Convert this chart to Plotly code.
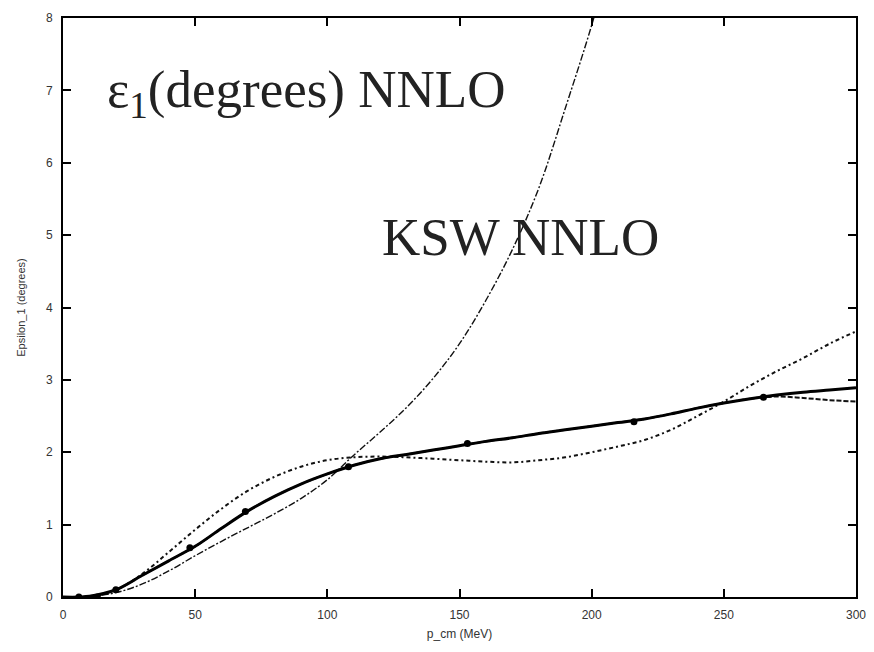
import plotly.graph_objects as go

# Thick solid curve (NNLO fit)
x_thick = [0, 10, 20, 30, 40, 50, 60, 70, 80, 90, 100, 110, 120, 130, 140, 150, 160, 170, 180, 190,
           200, 210, 220, 230, 240, 250, 260, 270, 280, 290, 300]
y_thick = [0, 0.01, 0.1, 0.3, 0.5, 0.7, 0.95, 1.19, 1.39, 1.56, 1.7, 1.82, 1.91, 1.97, 2.03, 2.09, 2.15,
           2.2, 2.26, 2.31, 2.36, 2.41, 2.46, 2.53, 2.61, 2.68, 2.74, 2.79, 2.83, 2.86, 2.89]

# Data points
x_pts = [6, 13, 20, 48, 69, 108, 153, 216, 265]
y_pts = [0, 0, 0.1, 0.68, 1.18, 1.8, 2.12, 2.42, 2.76]

# KSW NNLO (steep thin dash-dot)
x_ksw = [0, 10, 20, 30, 40, 50, 60, 70, 80, 90, 100, 110, 120, 130, 140, 150, 160, 170, 180, 190, 200, 206]
y_ksw = [0, 0.01, 0.06, 0.18, 0.36, 0.57, 0.77, 0.96, 1.15, 1.36, 1.62, 1.96, 2.28, 2.62, 3.02, 3.5, 4.1,
         4.8, 5.65, 6.75, 7.9, 8.7]

# Dash-dot curve
x_dd = [0, 10, 20, 30, 40, 50, 60, 70, 80, 90, 100, 110, 120, 130, 140, 150, 160, 170, 180, 190,
        200, 210, 220, 230, 240, 250, 260, 270, 280, 290, 300]
y_dd = [0, 0.01, 0.1, 0.32, 0.62, 0.93, 1.22, 1.47, 1.66, 1.8, 1.89, 1.93, 1.94, 1.93, 1.91, 1.89, 1.87,
        1.86, 1.89, 1.93, 2.0, 2.08, 2.17, 2.31, 2.5, 2.7, 2.92, 3.12, 3.3, 3.5, 3.67]

# Dashed curve
x_da = [0, 10, 20, 30, 40, 50, 60, 70, 80, 90, 100, 110, 120, 130, 140, 150, 160, 170, 180, 190,
        200, 210, 220, 230, 240, 250, 260, 270, 280, 290, 300]
y_da = [0, 0.01, 0.1, 0.3, 0.5, 0.7, 0.95, 1.19, 1.39, 1.56, 1.7, 1.82, 1.91, 1.97, 2.03, 2.09, 2.15,
        2.2, 2.26, 2.31, 2.36, 2.41, 2.46, 2.53, 2.61, 2.68, 2.74, 2.77, 2.75, 2.72, 2.7]

x_ticks = [0, 50, 100, 150, 200, 250, 300]
y_ticks = [0, 1, 2, 3, 4, 5, 6, 7, 8]

fig = go.Figure()
fig.add_trace(go.Scatter(x=x_ksw, y=y_ksw, mode="lines", line=dict(color="#111", width=1.4, dash="7px,2px,2px,2px"),
                         line_shape="spline", showlegend=False))
fig.add_trace(go.Scatter(x=x_dd, y=y_dd, mode="lines", line=dict(color="#111", width=2, dash="4px,3px,2px,3px"),
                         line_shape="spline", showlegend=False))
fig.add_trace(go.Scatter(x=x_da, y=y_da, mode="lines", line=dict(color="#111", width=2, dash="5px,2px"),
                         line_shape="spline", showlegend=False))
fig.add_trace(go.Scatter(x=x_thick, y=y_thick, mode="lines", line=dict(color="#000", width=3),
                         line_shape="spline", showlegend=False))
fig.add_trace(go.Scatter(x=x_pts, y=y_pts, mode="markers", marker=dict(color="#000", size=7, symbol="circle"),
                         showlegend=False))

serif = "Liberation Serif, Times New Roman, serif"
sans = "Liberation Sans, Arial, sans-serif"
fig.add_annotation(x=16, y=6.96, xref="x", yref="y", text="ε<sub>1</sub>(degrees) NNLO", showarrow=False,
                   xanchor="left", yanchor="middle", font=dict(family=serif, size=53, color="#222"))
fig.add_annotation(x=120, y=4.98, xref="x", yref="y", text="KSW NNLO", showarrow=False,
                   xanchor="left", yanchor="middle", font=dict(family=serif, size=53, color="#222"))

axis_common = dict(showgrid=False, zeroline=False, showline=True, linecolor="#000", linewidth=2,
                   mirror="ticks", ticks="inside", ticklen=8, tickwidth=1.5, tickcolor="#000",
                   ticklabelstandoff=6, automargin=False,
                   tickfont=dict(family=sans, size=12, color="#333"))
fig.update_xaxes(range=[0, 300], tickvals=x_ticks, ticktext=[str(v) for v in x_ticks],
                 title=dict(text="p_cm (MeV)", standoff=8, font=dict(family=sans, size=12, color="#333")),
                 **axis_common)
fig.update_yaxes(range=[0, 8], tickvals=y_ticks, ticktext=[str(v) for v in y_ticks],
                 title=dict(text="Epsilon_1 (degrees)", standoff=18, font=dict(family=sans, size=11, color="#333")),
                 **axis_common)
fig.update_layout(width=866, height=644, margin=dict(l=55, r=18, t=10, b=55),
                  paper_bgcolor="white", plot_bgcolor="white")
fig.write_html("out.html")
